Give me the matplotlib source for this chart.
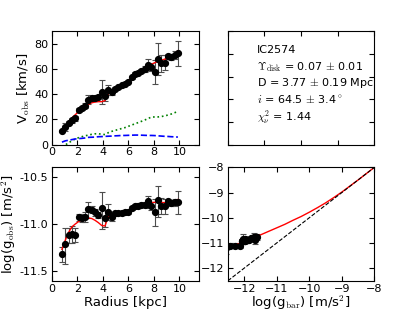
import numpy as np
import matplotlib
matplotlib.use("Agg")
import matplotlib.pyplot as plt

plt.rcParams.update({
    "mathtext.fontset": "cm",
    "xtick.direction": "in",
    "ytick.direction": "in",
    "xtick.top": True,
    "ytick.right": True,
    "xtick.major.size": 3.5,
    "ytick.major.size": 3.5,
    "xtick.major.pad": 2,
    "ytick.major.pad": 2.5,
    "xtick.labelsize": 8,
    "ytick.labelsize": 8,
    "axes.labelsize": 9.5,
    "axes.labelpad": 1.5,
})

KPC_M = 3.086e19

# rotation curve of IC2574
radius = np.array([0.78, 1.04, 1.30, 1.56, 1.82, 2.08, 2.34, 2.60, 2.86, 3.12,
                   3.38, 3.64, 3.90, 4.16, 4.42, 4.68, 4.94, 5.20, 5.46, 5.72,
                   5.98, 6.24, 6.50, 6.76, 7.02, 7.28, 7.54, 7.80, 8.06, 8.32,
                   8.58, 8.84, 9.10, 9.36, 9.62, 9.88])
v_obs = np.array([10.8, 14.0, 17.5, 19.5, 20.8, 27.5, 29.0, 31.0, 35.5, 37.0,
                  37.3, 37.5, 42.0, 38.5, 43.0, 41.5, 44.5, 45.7, 47.0, 48.5,
                  50.0, 53.5, 56.0, 57.2, 58.5, 60.0, 63.5, 61.5, 58.0, 68.0,
                  64.5, 65.0, 70.0, 69.5, 71.0, 72.5])
v_err = np.array([1.0, 3.0, 1.5, 2.0, 1.8, 1.3, 1.3, 1.8, 3.5, 1.7,
                  1.5, 1.5, 9.5, 4.0, 4.0, 2.0, 1.2, 1.2, 1.2, 1.2,
                  1.2, 1.3, 1.5, 1.5, 1.5, 2.0, 4.5, 3.0, 9.5, 12.5,
                  6.5, 6.0, 2.0, 2.5, 3.0, 10.0])
v_model = np.array([11.4, 14.7, 18.1, 21.2, 23.7, 26.1, 28.3, 30.3, 32.0, 33.2,
                    33.8, 34.1, 34.1, 35.0, 40.5, 42.5, 43.8, 45.5, 47.0, 48.6,
                    50.5, 53.0, 55.5, 57.3, 59.3, 61.0, 62.5, 63.7, 65.0, 66.0,
                    67.0, 67.8, 69.0, 70.3, 72.0, 74.5])
v_gas = np.array([-1.5, -0.3, 1.5, 3.0, 4.5, 5.5, 6.3, 7.0, 7.6, 8.2,
                  8.6, 8.7, 8.2, 8.0, 9.5, 10.5, 11.3, 12.0, 12.8, 13.5,
                  14.5, 15.5, 16.5, 17.5, 18.5, 19.5, 20.8, 21.8, 22.0, 22.0,
                  22.3, 22.8, 23.5, 24.3, 25.3, 26.5])
v_disk = np.array([2.0, 3.0, 3.5, 4.0, 4.5, 4.8, 5.0, 5.3, 5.8, 5.9,
                   6.0, 6.3, 6.4, 6.6, 6.7, 6.8, 7.0, 7.1, 7.3, 7.3,
                   7.4, 7.5, 7.6, 7.6, 7.5, 7.4, 7.3, 7.3, 7.2, 7.0,
                   6.8, 6.6, 6.5, 6.3, 6.2, 6.0])

# radial acceleration relation curve (log g_bar, log g_obs)
rar_gbar = [-12.5, -12.25, -12.0, -11.75, -11.5, -11.25, -11.0, -10.75, -10.5,
            -10.25, -10.0, -9.75, -9.5, -9.25, -9.0, -8.75, -8.5, -8.25, -8.0]
rar_gobs = [-11.20, -11.07, -10.94, -10.81, -10.68, -10.54, -10.40, -10.26, -10.10,
            -9.95, -9.78, -9.60, -9.41, -9.20, -8.98, -8.74, -8.50, -8.25, -8.0]
one_to_one = [-12.5, -8.0]

galaxy = "IC2574"
info = [galaxy,
        r"$\Upsilon_{\rm disk}$ = 0.07 $\pm$ 0.01",
        r"D = 3.77 $\pm$ 0.19 Mpc",
        r"$i$ = 64.5 $\pm$ 3.4$^\circ$",
        r"$\chi_\nu^2$ = 1.44"]
info_y = [0.83, 0.685, 0.54, 0.40, 0.245]


def log_acc(v, r):
    return np.log10((v * 1e3) ** 2 / (r * KPC_M))


gobs = log_acc(v_obs, radius)
g_up = log_acc(v_obs + v_err, radius) - gobs
g_lo = gobs - log_acc(v_obs - v_err, radius)
gmod = log_acc(v_model, radius)
vbar2 = v_gas * np.abs(v_gas) + v_disk ** 2
gbar = np.log10(np.clip(vbar2, 1e-3, None) * 1e6 / (radius * KPC_M))

fig, axes = plt.subplots(2, 2, figsize=(4.16, 3.12), dpi=100)
plt.subplots_adjust(left=0.125, right=0.9, bottom=0.1, top=0.9, wspace=0.2, hspace=0.2)
ax1, ax2, ax3, ax4 = axes.flatten()

err_kw = dict(fmt='o', color='k', ms=4.2, ecolor='0.3', elinewidth=0.8, capsize=2, capthick=0.8)

ax1.errorbar(radius, v_obs, yerr=v_err, **err_kw)
ax1.plot(radius, v_model, color='r', lw=1)
ax1.plot(radius, v_gas, color='g', ls=':', lw=1.2)
ax1.plot(radius, v_disk, color='b', ls='--', lw=1.2)
ax1.set_xlim(0, 11.5)
ax1.set_ylim(0, 90)
ax1.set_xticks([0, 2, 4, 6, 8, 10])
ax1.set_yticks([0, 20, 40, 60, 80])
ax1.set_ylabel(r"V$_{\rm obs}$ [km/s]")

ax2.tick_params(labelbottom=False, labelleft=False)
for txt, yy in zip(info, info_y):
    ax2.text(0.2, yy, txt, fontsize=8, va='center', ha='left', transform=ax2.transAxes)

ax3.errorbar(radius, gobs, yerr=[g_lo, g_up], **err_kw)
ax3.plot(radius, gmod, color='r', lw=1)
ax3.set_xlim(0, 11.5)
ax3.set_ylim(-11.6, -10.4)
ax3.set_xticks([0, 2, 4, 6, 8, 10])
ax3.set_yticks([-10.5, -11.0, -11.5])
ax3.set_yticklabels(['-10.5', '-11.0', '-11.5'])
ax3.set_xlabel("Radius [kpc]")
ax3.set_ylabel(r"log(g$_{\rm obs}$) [m/s$^2$]")

ax4.errorbar(gbar, gobs, yerr=[g_lo, g_up], **err_kw)
ax4.plot(rar_gbar, rar_gobs, color='r', lw=1)
ax4.plot(one_to_one, one_to_one, color='k', ls='--', lw=0.8)
ax4.set_xlim(-12.5, -8)
ax4.set_ylim(-12.5, -8)
ax4.set_xticks([-12, -11, -10, -9, -8])
ax4.set_yticks([-8, -9, -10, -11, -12])
ax4.set_xlabel(r"log(g$_{\rm bar}$) [m/s$^2$]", labelpad=0.2)

fig.savefig("out.png", dpi=100)
